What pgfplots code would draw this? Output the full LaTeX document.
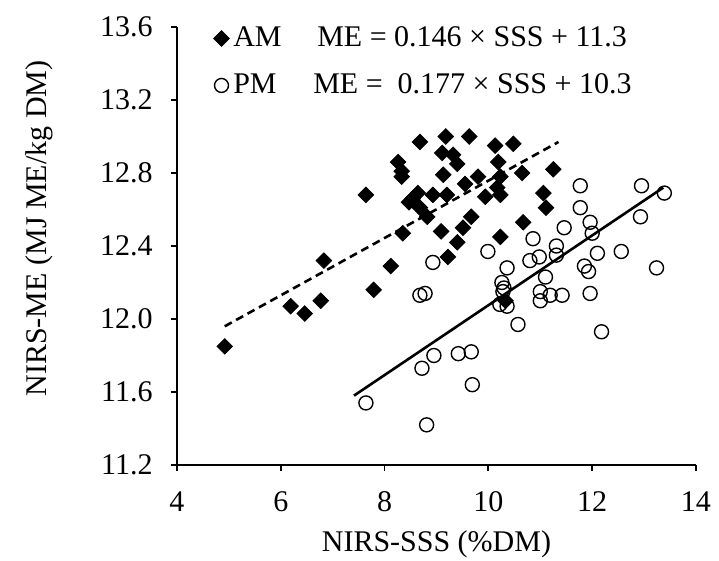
\documentclass[border=0pt]{standalone}
\usepackage{fontspec}
\setmainfont{Liberation Serif}
\usepackage{pgfplots}
\pgfplotsset{compat=1.18}

\begin{document}
\begin{tikzpicture}
\begin{axis}[
  scale only axis, width=259.5pt, height=219pt,
  xmin=4, xmax=14, ymin=11.2, ymax=13.6,
  xtick={4,6,8,10,12,14},
  ytick={11.2,11.6,12.0,12.4,12.8,13.2,13.6},
  axis x line*=bottom, axis y line*=left,
  axis line style={line width=0.9pt},
  tick align=outside, major tick length=3pt,
  every tick/.style={black, line width=0.9pt},
  font=\fontsize{15}{18}\selectfont,
  /pgf/number format/assume math mode=true,
  yticklabel style={/pgf/number format/fixed, /pgf/number format/fixed zerofill,
    /pgf/number format/precision=1, anchor=east, inner sep=0pt, xshift=-9pt},
  xticklabel style={anchor=north, inner sep=0pt, yshift=-10pt},
  xlabel={NIRS-SSS (\%DM)}, ylabel={NIRS-ME (MJ ME/kg DM)},
  xlabel style={at={(axis description cs:0.5,-0.18)}, anchor=center},
  ylabel style={at={(axis description cs:-0.265,0.54)}, anchor=center, rotate=0},
  legend style={at={(axis description cs:0.07,1.01)}, anchor=north west,
    draw=none, fill=none, inner sep=0pt, row sep=8pt,
    font=\fontsize{15}{18}\selectfont},
  legend cell align=left,
  clip=false,
]
% AM
\addplot[only marks, mark=square*, mark size=2.75pt,
  mark options={rotate=45, fill=black, draw=black}] coordinates {
  (4.92,11.85) (6.19,12.07) (6.46,12.03) (6.77,12.10) (6.83,12.32)
  (7.64,12.68) (7.79,12.16) (8.12,12.29) (8.35,12.47) (8.26,12.86)
  (8.33,12.81) (8.33,12.78) (8.47,12.64) (8.68,12.97) (9.18,13.00)
  (9.63,13.00) (10.13,12.95) (10.48,12.96) (9.11,12.91) (9.32,12.90)
  (9.40,12.85) (9.13,12.79) (10.19,12.86) (10.23,12.78) (10.65,12.80)
  (11.25,12.82) (9.80,12.78) (9.55,12.74) (10.17,12.72) (9.94,12.67)
  (10.23,12.68) (9.20,12.68) (8.93,12.68) (8.64,12.69) (8.54,12.66)
  (8.68,12.61) (8.82,12.56) (11.06,12.69) (11.11,12.61) (9.67,12.56)
  (10.67,12.53) (9.51,12.50) (9.09,12.48) (10.23,12.45) (9.40,12.42)
  (9.22,12.34) (10.33,12.10)
};
\addlegendentry{\makebox[42pt][l]{AM}ME = 0.146 × SSS + 11.3}
% PM
\addplot[only marks, mark=o, mark size=3.5pt,
  mark options={line width=0.7pt, draw=black}] coordinates {
  (7.64,11.54) (8.72,11.73) (8.95,11.80) (9.42,11.81) (9.67,11.82)
  (9.69,11.64) (8.81,11.42) (8.68,12.13) (8.78,12.14) (8.93,12.31)
  (9.99,12.37) (10.36,12.28) (10.26,12.20) (10.28,12.15) (10.22,12.08)
  (10.36,12.07) (10.30,12.17) (10.57,11.97) (10.86,12.44) (10.80,12.32)
  (10.98,12.34) (11.31,12.40) (11.31,12.35) (11.46,12.50) (11.10,12.23)
  (11.00,12.15) (11.00,12.10) (11.19,12.13) (11.42,12.13) (11.77,12.73)
  (11.77,12.61) (11.96,12.53) (12.00,12.47) (12.10,12.36) (11.85,12.29)
  (11.93,12.26) (11.96,12.14) (12.18,11.93) (12.56,12.37) (12.93,12.56)
  (12.95,12.73) (13.39,12.69) (13.24,12.28)
};
\addlegendentry{\makebox[40pt][l]{PM}ME =\ \ 0.177 × SSS + 10.3}
% fitted lines
\addplot[black, line width=1.3pt, dash pattern=on 4pt off 2.5pt, forget plot]
  coordinates {(4.92,11.96) (11.35,12.97)};
\addplot[black, line width=1.3pt, forget plot]
  coordinates {(7.41,11.58) (13.37,12.72)};
\end{axis}
\pgfresetboundingbox
\path ([xshift=-88.5pt,yshift=-48pt]current axis.south west)
  rectangle ([xshift=11.5pt,yshift=13.5pt]current axis.north east);
\end{tikzpicture}
\end{document}
